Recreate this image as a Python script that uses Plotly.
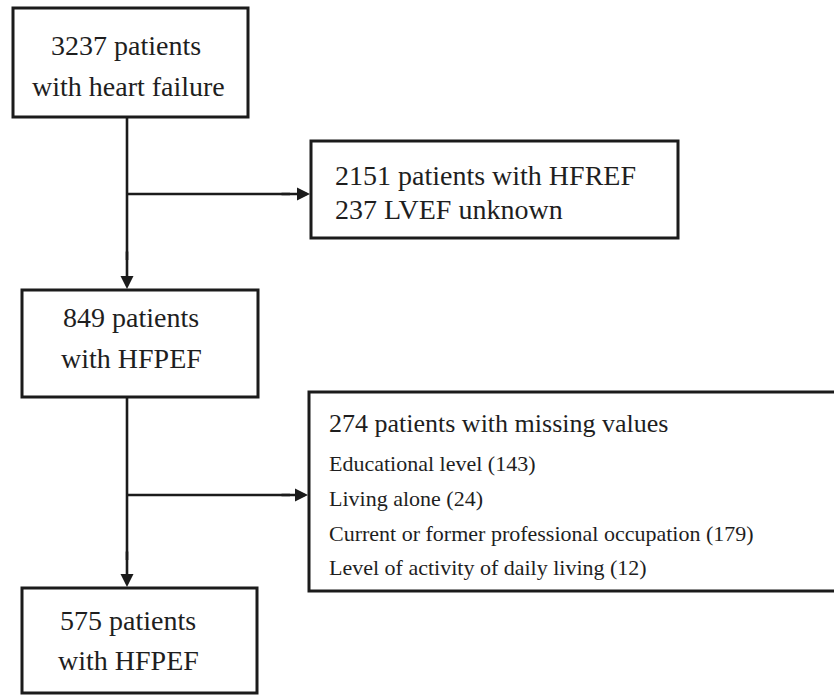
import plotly.graph_objects as go

# ---- data (flow counts and labels) ----
total_hf = 3237
hfref = 2151
lvef_unknown = 237
hfpef_initial = 849
missing_total = 274
hfpef_final = 575
missing_labels = ["Educational level", "Living alone",
                  "Current or former professional occupation",
                  "Level of activity of daily living"]
missing_counts = [143, 24, 179, 12]

# ---- layout geometry (pixels, y downward) ----
W, H = 834, 696
LINE = "#1b1b1b"
TXT = "#1e1e1e"
FONT = "Liberation Serif"

boxes = {
    "b1": (13, 8, 248, 117),
    "b2": (311, 141, 678, 238),
    "b3": (22, 290, 258, 397),
    "b4": (309, 392, 845, 591),
    "b5": (22, 588, 257, 693),
}

fig = go.Figure()
shapes = []
for (x0, y0, x1, y1) in boxes.values():
    shapes.append(dict(type="rect", xref="x", yref="y", x0=x0, y0=y0, x1=x1, y1=y1,
                       line=dict(color=LINE, width=3), fillcolor="rgba(0,0,0,0)"))

annotations = []

def txt(x, y, s, size, anchor="center"):
    annotations.append(dict(x=x, y=y, xref="x", yref="y", text=s, showarrow=False,
                            xanchor=anchor, yanchor="middle",
                            font=dict(family=FONT, size=size, color=TXT)))

def arrow(x0, y0, x1, y1):
    annotations.append(dict(x=x1, y=y1, ax=x0, ay=y0, xref="x", yref="y",
                            axref="x", ayref="y", text="", showarrow=True,
                            arrowhead=2, arrowsize=1.0, arrowwidth=2.6,
                            arrowcolor=LINE, standoff=0, startstandoff=0))

# box texts
txt(126, 45, f"{total_hf} patients", 28)
txt(128, 86, "with heart failure", 28)
txt(333, 175, f"{hfref} patients with HFREF", 28, "left")
txt(333, 209, f"{lvef_unknown} LVEF unknown", 28, "left")
txt(131, 317, f"{hfpef_initial} patients", 28)
txt(131, 358, "with HFPEF", 28)
txt(327, 423, f"{missing_total} patients with missing values", 26, "left")
ys = [463, 498, 533, 567]
for lab, c, y in zip(missing_labels, missing_counts, ys):
    txt(327, y, f"{lab} ({c})", 22, "left")
txt(128, 620, f"{hfpef_final} patients", 28)
txt(128, 660, "with HFPEF", 28)

# connectors
vx = 127
shapes.append(dict(type="line", xref="x", yref="y", x0=vx, y0=117, x1=vx, y1=260,
                   line=dict(color=LINE, width=2.6)))
arrow(vx, 250, vx, 289)
shapes.append(dict(type="line", xref="x", yref="y", x0=vx, y0=194, x1=290, y1=194,
                   line=dict(color=LINE, width=2.6)))
arrow(280, 194, 310, 194)

shapes.append(dict(type="line", xref="x", yref="y", x0=vx, y0=397, x1=vx, y1=560,
                   line=dict(color=LINE, width=2.6)))
arrow(vx, 550, vx, 587)
shapes.append(dict(type="line", xref="x", yref="y", x0=vx, y0=495, x1=290, y1=495,
                   line=dict(color=LINE, width=2.6)))
arrow(280, 495, 308, 495)

fig.update_layout(
    width=W, height=H, margin=dict(l=0, r=0, t=0, b=0),
    paper_bgcolor="white", plot_bgcolor="white",
    xaxis=dict(range=[0, W], visible=False, fixedrange=True),
    yaxis=dict(range=[H, 0], visible=False, fixedrange=True),
    shapes=shapes, annotations=annotations, showlegend=False,
)
fig.write_html(
    "out.html",
    config={"displayModeBar": False, "staticPlot": True},
    post_script="document.body.style.margin='0';document.documentElement.style.overflow='hidden';",
)
